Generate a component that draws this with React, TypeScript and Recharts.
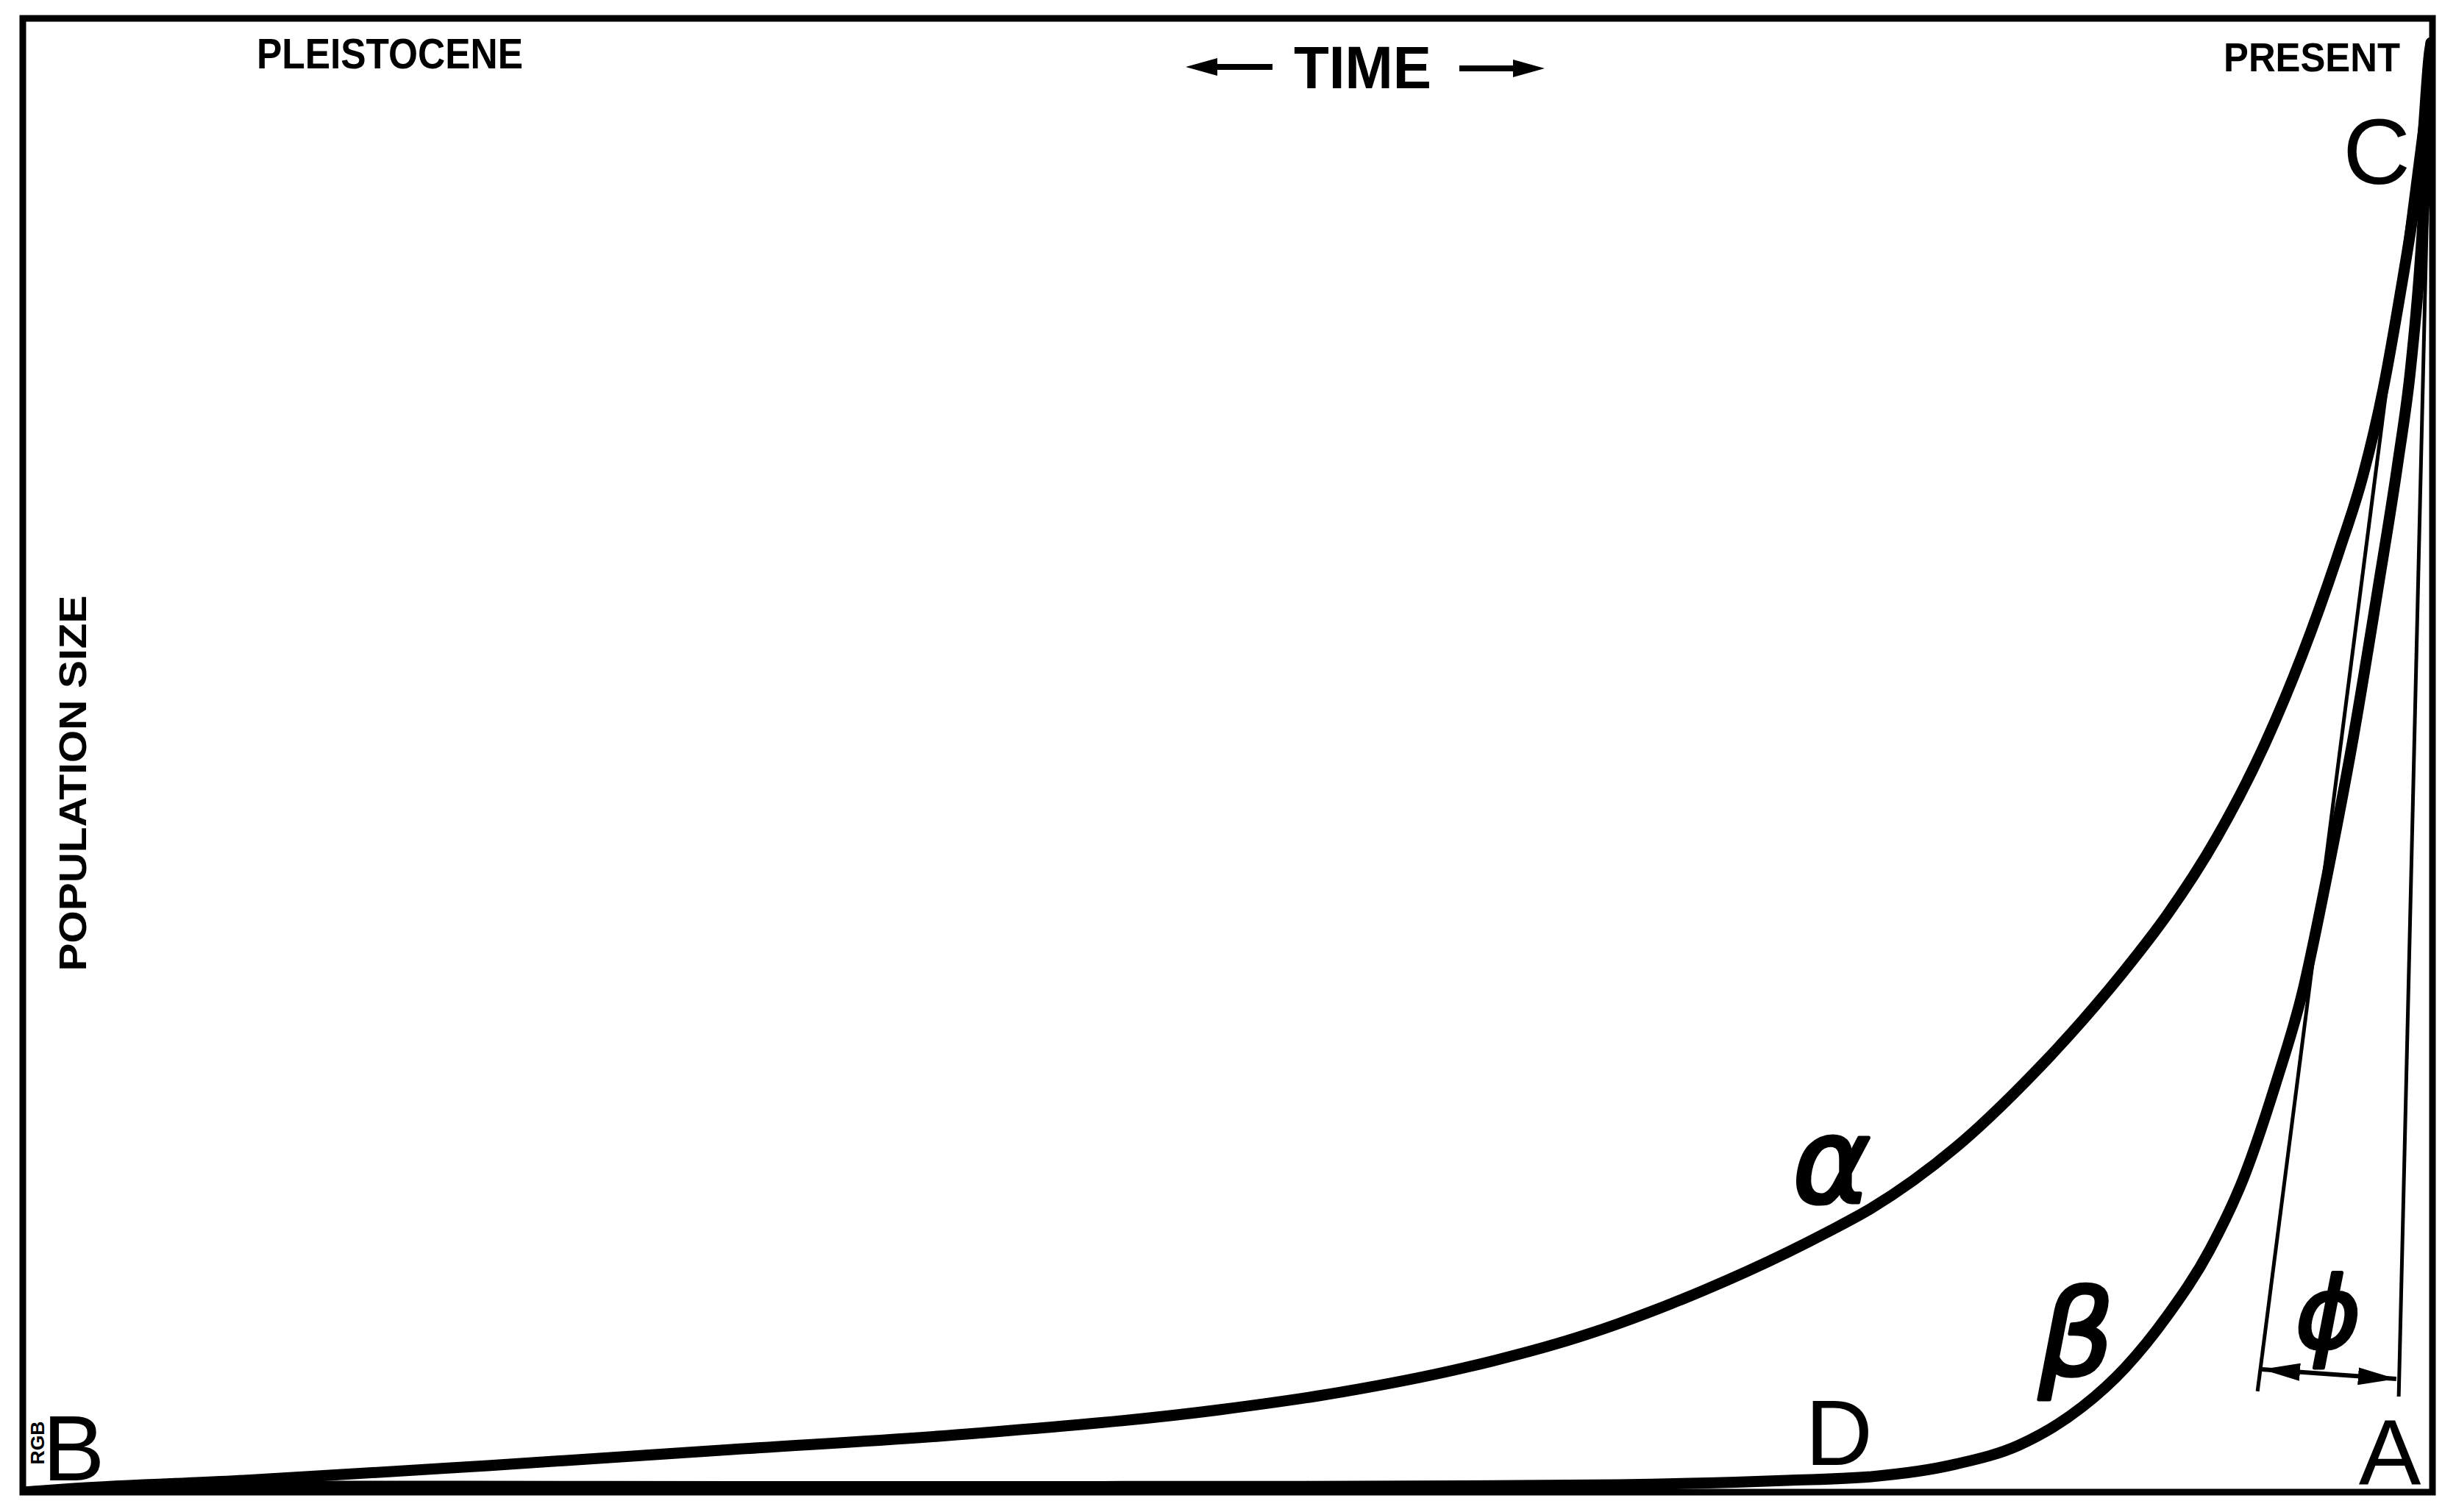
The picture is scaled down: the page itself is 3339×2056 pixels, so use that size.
import { ComposedChart, Line, Scatter, XAxis, YAxis, ReferenceArea } from 'recharts'

// time runs 0 (Pleistocene) -> 100 (present), population size 0 -> 100 (top of frame)
const alphaTime = [0, 2.11, 9.19, 19.29, 29.43, 39.56, 49.66, 54.73, 59.8, 64.87, 66.21, 69.72, 73.23, 74.97, 76.71, 80.22, 83.73, 85.47, 87.58, 89.01, 91.03, 93.07, 94.6, 96.12, 97.13, 97.95, 98.66, 99.18, 99.57, 99.88, 99.94]
const alphaPop = [0, 0.25, 0.8, 1.8, 2.89, 3.99, 5.59, 6.79, 8.43, 10.68, 11.43, 13.67, 16.27, 17.71, 19.26, 23.4, 28.89, 31.99, 36.13, 39.22, 44.36, 50.85, 56.84, 63.82, 69.06, 74.8, 81.29, 86.53, 91.27, 97.75, 98.35]

const betaTime = [0, 9.19, 18.28, 29.58, 44.84, 59.8, 66.21, 73.23, 76.71, 80.22, 82.84, 85.47, 87.24, 88.98, 90.75, 92.16, 93.53, 94.6, 95.6, 96.73, 97.74, 98.56, 99.08, 99.48, 99.79, 99.94]
const betaPop = [0, 0.4, 0.4, 0.38, 0.38, 0.42, 0.5, 0.8, 1.05, 1.9, 3.19, 5.79, 8.43, 11.93, 16.42, 21.31, 27.89, 33.88, 41.62, 51.35, 61.33, 69.81, 76.05, 83.28, 91.77, 98.35]

// thin straight lines from the base up to C, and the angle phi between them
const tangentLeftTime = [92.74, 99.94]
const tangentLeftPop = [6.84, 98.35]
const tangentRightTime = [98.6, 99.94]
const tangentRightPop = [6.49, 98.35]
const phiSpanTime = [92.92, 98.5]
const phiSpanPop = [8.33, 7.68]

// point letters and curve names
const labelText = ['B', 'C', 'D', 'A', 'α', 'β', 'ϕ']
const labelTime = [2.11, 97.68, 75.37, 98.23, 75.06, 85.23, 95.67]
const labelPop = [0.8, 88.77, 1.85, 0.55, 19.66, 7.93, 9.83]

const zip = (ts: number[], ps: number[]) => ts.map((t, i) => ({ t, p: ps[i] }))

const alphaData = zip(alphaTime, alphaPop)
const betaData = zip(betaTime, betaPop)
const tangentLeft = zip(tangentLeftTime, tangentLeftPop)
const tangentRight = zip(tangentRightTime, tangentRightPop)
const phiSpan = zip(phiSpanTime, phiSpanPop)
const labelData = labelText.map((text, i) => ({ text, t: labelTime[i], p: labelPop[i] }))

const sans = 'Liberation Sans, Arial, sans-serif'
const greek = { fontFamily: 'DejaVu Sans, sans-serif', fontStyle: 'italic', stroke: '#000', strokeWidth: 5, strokeLinejoin: 'round' }

const letterStyle: Record<string, any> = {
  B: { fontFamily: sans, fontSize: 127 },
  C: { fontFamily: sans, fontSize: 127 },
  D: { fontFamily: sans, fontSize: 127 },
  A: { fontFamily: sans, fontSize: 127 },
  'α': { ...greek, fontSize: 160 },
  'β': { ...greek, fontSize: 160 },
  'ϕ': { ...greek, fontSize: 134 },
}

const renderLetter = (props: any) => {
  const { cx, cy, payload } = props
  return (
    <text x={cx} y={cy} textAnchor="middle" fill="#000" style={letterStyle[payload.text]}>
      {payload.text}
    </text>
  )
}

const bold = { fontFamily: sans, fontWeight: 'bold' as const }

export default function App() {
  return (
    <div style={{ position: 'absolute', left: 0, top: 0, background: '#fff' }}>
      <ComposedChart width={3339} height={2056} margin={{ top: 25, right: 32, bottom: 27, left: 31 }}>
        <defs>
          <marker
            id="phiHead"
            viewBox="0 0 10 10"
            refX="10"
            refY="5"
            markerUnits="userSpaceOnUse"
            markerWidth="52"
            markerHeight="24"
            preserveAspectRatio="none"
            orient="auto-start-reverse"
          >
            <path d="M0,0 L10,5 L0,10 z" fill="#000" />
          </marker>
        </defs>
        <XAxis type="number" dataKey="t" domain={[0, 100]} hide allowDataOverflow />
        <YAxis type="number" dataKey="p" domain={[0, 100]} hide allowDataOverflow />
        <ReferenceArea x1={0} x2={100} y1={0} y2={100} fill="none" fillOpacity={0} stroke="#000" strokeWidth={9} ifOverflow="visible" />

        <Line data={tangentLeft} dataKey="p" type="linear" stroke="#000" strokeWidth={5} dot={false} isAnimationActive={false} />
        <Line data={tangentRight} dataKey="p" type="linear" stroke="#000" strokeWidth={5} dot={false} isAnimationActive={false} />
        <Line data={alphaData} dataKey="p" type="monotone" stroke="#000" strokeWidth={15} strokeLinecap="round" strokeLinejoin="round" dot={false} isAnimationActive={false} />
        <Line data={betaData} dataKey="p" type="monotone" stroke="#000" strokeWidth={15} strokeLinecap="round" strokeLinejoin="round" dot={false} isAnimationActive={false} />
        <Line
          data={phiSpan}
          dataKey="p"
          type="linear"
          stroke="#000"
          strokeWidth={6}
          dot={false}
          markerStart="url(#phiHead)"
          markerEnd="url(#phiHead)"
          isAnimationActive={false}
        />
        <Scatter data={labelData} dataKey="p" shape={renderLetter} isAnimationActive={false} />

        {/* header and axis captions */}
        <text x={349} y={93} textLength={362} lengthAdjust="spacingAndGlyphs" style={{ ...bold, fontSize: 57 }}>PLEISTOCENE</text>
        <text x={1759} y={120} textLength={187} lengthAdjust="spacingAndGlyphs" style={{ ...bold, fontSize: 81 }}>TIME</text>
        <rect x={1650} y={87} width={80} height={8} fill="#000" />
        <polygon points="1612,91 1655,79 1655,103" fill="#000" />
        <rect x={1984} y={89} width={76} height={8} fill="#000" />
        <polygon points="2100,93 2057,81 2057,105" fill="#000" />
        <text x={3023} y={97} textLength={240} lengthAdjust="spacingAndGlyphs" style={{ ...bold, fontSize: 56 }}>PRESENT</text>
        <text
          transform="translate(117,1065) rotate(-90)"
          textAnchor="middle"
          textLength={511}
          lengthAdjust="spacingAndGlyphs"
          style={{ ...bold, fontSize: 52 }}
        >
          POPULATION SIZE
        </text>
        <text transform="translate(60,1962) rotate(-90)" textAnchor="middle" textLength={59} lengthAdjust="spacingAndGlyphs" style={{ ...bold, fontSize: 26 }}>
          RGB
        </text>
      </ComposedChart>
    </div>
  )
}
